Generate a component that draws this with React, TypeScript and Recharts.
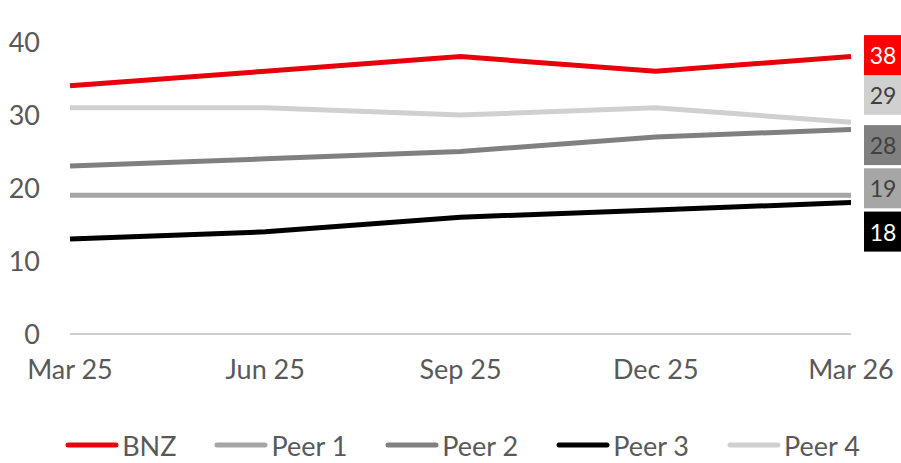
import React from 'react';
import { LineChart, Line, XAxis, YAxis, Legend, LabelList } from 'recharts';

const categories = ['Mar 25', 'Jun 25', 'Sep 25', 'Dec 25', 'Mar 26'];
const bnz = [34, 36, 38, 36, 38];
const peer1 = [19, 19, 19, 19, 19];
const peer2 = [23, 24, 25, 27, 28];
const peer3 = [13, 14, 16, 17, 18];
const peer4 = [31, 31, 30, 31, 29];
const yTicks = [0, 10, 20, 30, 40];

const data = categories.map((c, i) => ({
  name: c,
  BNZ: bnz[i],
  'Peer 1': peer1[i],
  'Peer 2': peer2[i],
  'Peer 3': peer3[i],
  'Peer 4': peer4[i],
}));

const FONT = 'Lato, "Noto Sans", sans-serif';
const TEXT = '#595959';

const series = [
  { key: 'BNZ', color: '#e8000b', box: '#ff0000', text: '#ffffff', dy: -1.5 },
  { key: 'Peer 1', color: '#a6a6a6', box: '#a6a6a6', text: '#404040', dy: -7 },
  { key: 'Peer 2', color: '#808080', box: '#808080', text: '#404040', dy: 15.5 },
  { key: 'Peer 3', color: '#000000', box: '#000000', text: '#ffffff', dy: 29 },
  { key: 'Peer 4', color: '#d0d0d0', box: '#d0d0d0', text: '#404040', dy: -27.5 },
];

const makeEndLabel = (s: any) => (props: any) => {
  const { x, y, value, index } = props;
  if (index !== categories.length - 1) return null;
  const cy = y + s.dy;
  return (
    <g>
      <rect x={x + 13} y={cy - 20} width={38} height={40} fill={s.box} />
      <text
        x={x + 32}
        y={cy}
        textAnchor="middle"
        dominantBaseline="central"
        fontSize={23}
        fontFamily={FONT}
        fill={s.text}
      >
        {value}
      </text>
    </g>
  );
};

const LegendContent = () => (
  <div
    style={{
      display: 'flex',
      justifyContent: 'center',
      alignItems: 'center',
      width: 901,
      height: 30,
      marginTop: -3,
      fontFamily: FONT,
      fontSize: 27,
      color: TEXT,
      whiteSpace: 'nowrap',
      boxSizing: 'border-box',
      paddingLeft: 62,
    }}
  >
    {series.map((s) => (
      <div key={s.key} style={{ display: 'flex', alignItems: 'center', marginRight: 38, whiteSpace: 'nowrap' }}>
        <svg width={54} height={10} style={{ marginRight: 3 }}>
          <line x1={3} y1={5} x2={51} y2={5} stroke={s.color} strokeWidth={5} strokeLinecap="round" />
        </svg>
        <span>{s.key}</span>
      </div>
    ))}
  </div>
);

export default function App() {
  return (
    <div style={{ position: 'absolute', left: 0, top: 0, width: 901, height: 463, background: '#fff' }}>
      <LineChart width={901} height={463} data={data} margin={{ top: 42, right: 50, left: 0, bottom: 0 }}>
        <XAxis
          dataKey="name"
          axisLine={{ stroke: '#d0d0d0', strokeWidth: 2 }}
          tickLine={false}
          tickSize={0}
          tickMargin={26}
          height={99}
          interval={0}
          tick={{ fill: TEXT, fontSize: 27, fontFamily: FONT }}
        />
        <YAxis
          domain={[0, 40]}
          ticks={yTicks}
          width={70}
          axisLine={false}
          tickLine={false}
          tickSize={0}
          tickMargin={30}
          tick={{ fill: TEXT, fontSize: 27, fontFamily: FONT }}
        />
        <Legend
          verticalAlign="bottom"
          content={<LegendContent />}
          wrapperStyle={{ height: 30, width: 901, left: 0 }}
        />
        {[series[4], series[3], series[1], series[2], series[0]].map((s) => (
          <Line
            key={s.key}
            dataKey={s.key}
            stroke={s.color}
            strokeWidth={5}
            dot={false}
            isAnimationActive={false}
          >
            <LabelList dataKey={s.key} content={makeEndLabel(s)} />
          </Line>
        ))}
      </LineChart>
    </div>
  );
}
